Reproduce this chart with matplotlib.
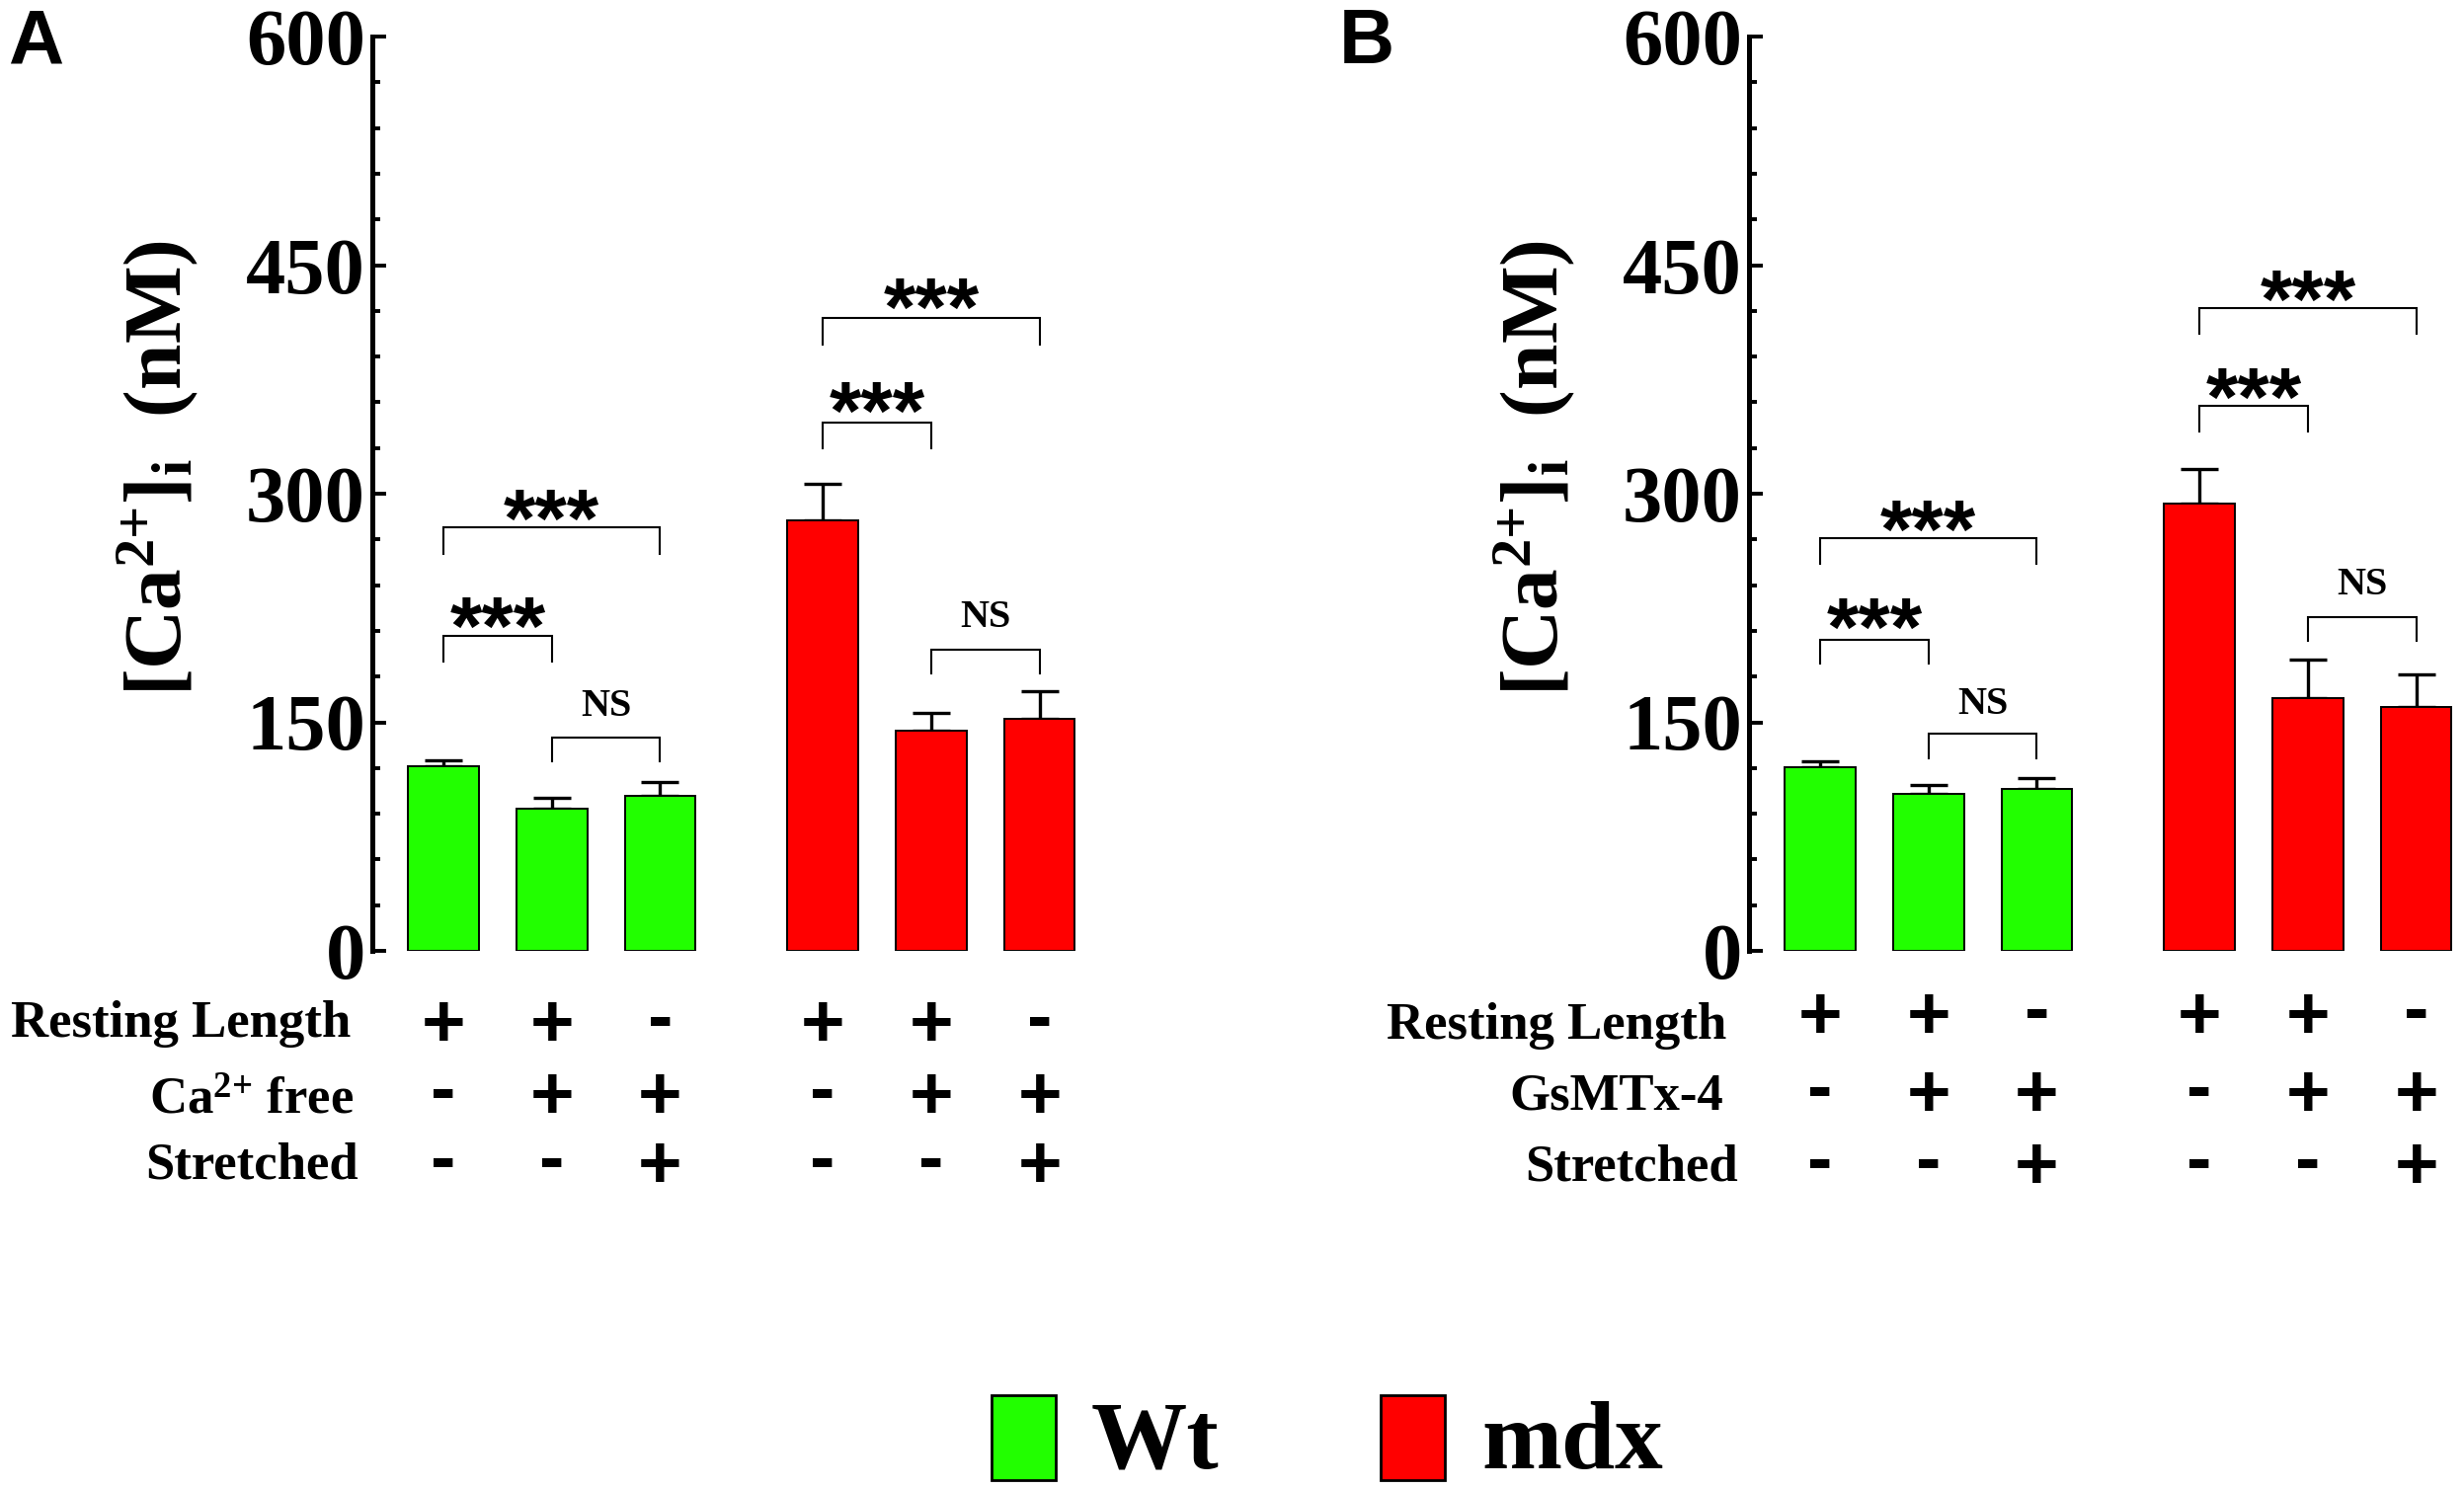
import numpy as np
import matplotlib.pyplot as plt
from matplotlib.patches import Rectangle
from matplotlib.transforms import blended_transform_factory, offset_copy

plt.rcParams['mathtext.fontset'] = 'custom'
plt.rcParams['mathtext.rm'] = 'Liberation Serif:bold'
plt.rcParams['mathtext.it'] = 'Liberation Serif:bold:italic'
plt.rcParams['mathtext.bf'] = 'Liberation Serif:bold'

# ---- data ----
xpos = [0, 1, 2, 3.5, 4.5, 5.5]

wt_A = [121.4, 93.2, 102.0]
wt_A_err = [3.8, 7.1, 8.6]
mdx_A = [282.2, 144.2, 152.1]
mdx_A_err = [24.5, 12.0, 18.2]

wt_B = [120.2, 103.2, 106.5]
wt_B_err = [4.1, 5.8, 6.6]
mdx_B = [293.6, 165.6, 159.8]
mdx_B_err = [22.7, 25.6, 21.9]

# (bar i, bar j, bracket height, leg length, label, label centre)
brackets_A = [(0, 2, 277.7, 17.4, '***', 295.5),
              (0, 1, 206.4, 16.6, '***', 225.0),
              (1, 2, 140.0, 15.3, 'NS', 162.9),
              (3, 5, 415.3, 17.5, '***', 434.3),
              (3, 4, 346.5, 16.6, '***', 366.0),
              (4, 5, 197.7, 15.4, 'NS', 221.0)]
brackets_B = [(0, 2, 270.9, 16.9, '***', 288.2),
              (0, 1, 204.4, 16.1, '***', 224.2),
              (1, 2, 142.5, 16.1, 'NS', 164.3),
              (3, 5, 422.0, 17.3, '***', 439.0),
              (3, 4, 357.6, 16.9, '***', 375.0),
              (4, 5, 218.9, 15.3, 'NS', 242.8)]

rows_A = ['Resting Length', 'Ca$^{2{+}}$ free', 'Stretched']
rows_B = ['Resting Length', 'GsMTx-4', 'Stretched']
signs = [['+', '+', '-', '+', '+', '-'],
         ['-', '+', '+', '-', '+', '+'],
         ['-', '-', '+', '-', '-', '+']]

groups = ['Wt', 'mdx']
colors = ['#22ff00', '#ff0000']

W, H = 2495, 1508
fig = plt.figure(figsize=(W / 100, H / 100), dpi=100)

SERIF = 'Liberation Serif'
SANS = 'Liberation Sans'


def fy(y):
    return 1 - y / H


def draw_panel(axis_x, letter, letter_x, wt, wt_err, mdx, mdx_err, brackets,
               row_labels, label_right, label_base, sign_y):
    ax = fig.add_axes([axis_x / W, fy(963), 714 / W, 926 / H])
    vals = wt + mdx
    errs = wt_err + mdx_err
    cols = [colors[0]] * 3 + [colors[1]] * 3
    ax.bar(xpos, vals, width=0.652, color=cols, edgecolor='black', linewidth=1.4, zorder=2)
    ax.errorbar(xpos, vals, yerr=[np.zeros(6), errs], fmt='none', ecolor='black',
                elinewidth=2.4, capsize=14, capthick=2.4, zorder=1)
    ax.set_xlim(-0.656, 5.85)
    ax.set_ylim(0, 600)
    ax.set_yticks([0, 150, 300, 450, 600])
    ax.set_yticks(np.arange(0, 601, 30), minor=True)
    ax.set_xticks([])
    for s in ['top', 'right', 'bottom']:
        ax.spines[s].set_visible(False)
    ax.spines['left'].set_linewidth(3.6)
    ax.tick_params(axis='y', which='major', direction='in', length=10, width=2.8, pad=5)
    ax.tick_params(axis='y', which='minor', direction='in', length=6, width=2.8)
    for t in ax.get_yticklabels():
        t.set_fontfamily(SERIF)
        t.set_fontweight('bold')
        t.set_fontsize(58)

    # significance brackets
    for i, j, y, d, txt, ty in brackets:
        x1, x2 = xpos[i], xpos[j]
        ax.plot([x1, x1, x2, x2], [y - d, y, y, y - d], color='black', lw=1.5,
                solid_joinstyle='miter', clip_on=False)
        if txt == 'NS':
            fs, fam, k = 29, SERIF, 0.331
        else:
            fs, fam, k = 60, SANS, 0.56
        tr = offset_copy(ax.transData, fig=fig, y=-k * fs, units='points')
        ax.text((x1 + x2) / 2, ty, txt, transform=tr, ha='center', va='baseline',
                fontsize=fs, fontweight='bold', family=fam, clip_on=False)

    # y label
    fig.text((axis_x - 217) / W, fy(474), r'[Ca$^{2{+}}$]$_{\mathrm{i}}$  (nM)', rotation=90,
             ha='center', va='center', fontsize=60, fontweight='bold', family=SERIF)

    # panel letter
    fig.text(letter_x / W, fy(64), letter, ha='left', va='baseline', fontsize=56,
             fontweight='bold', family=SANS)

    # condition table
    blend = blended_transform_factory(ax.transData, fig.transFigure)
    for r in range(3):
        fig.text(label_right[r] / W, fy(label_base[r]), row_labels[r], ha='right',
                 va='baseline', fontsize=38, fontweight='bold', family=SERIF)
        for xi, s in zip(xpos, signs[r]):
            k = 0.353 if s == '+' else 0.273
            tr = offset_copy(blend, fig=fig, y=-k * 55, units='points')
            ax.text(xi, fy(sign_y[r]), s, transform=tr, ha='center', va='baseline',
                    fontsize=55, fontweight='bold', family=SANS, clip_on=False)
    return ax


draw_panel(377, 'A', 8, wt_A, wt_A_err, mdx_A, mdx_A_err, brackets_A, rows_A,
           [355, 358, 363], [1050, 1128, 1193], [1033, 1106, 1176])
draw_panel(1771, 'B', 1356, wt_B, wt_B_err, mdx_B, mdx_B_err, brackets_B, rows_B,
           [1748, 1745, 1760], [1052, 1123, 1195], [1025, 1104, 1177])

# legend
for (bx, tx), name, c in zip([(1004, 1105), (1398, 1500)], groups, colors):
    fig.patches.append(Rectangle((bx / W, fy(1499)), 65 / W, 86 / H, facecolor=c,
                                 edgecolor='black', linewidth=2, transform=fig.transFigure))
    fig.text(tx / W, fy(1487), name, ha='left', va='baseline', fontsize=70,
             fontweight='bold', family=SERIF)

fig.savefig('out.png', dpi=100)
